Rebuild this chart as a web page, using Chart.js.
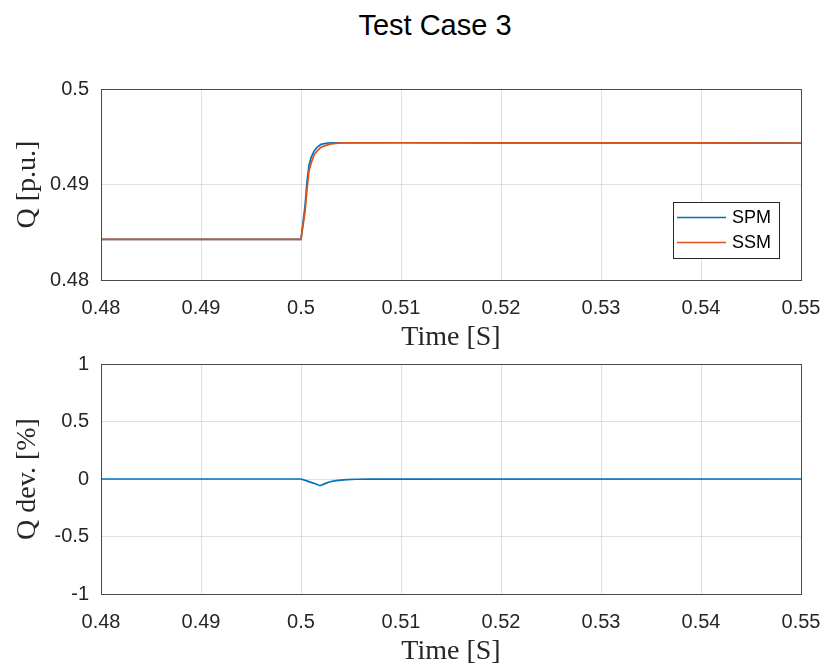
<!DOCTYPE html>
<html>
<head>
<meta charset="utf-8">
<script src="https://cdn.jsdelivr.net/npm/chart.js@4/dist/chart.umd.min.js"></script>
<style>
  body { margin: 0; background: #fff; }
  #wrap { position: relative; width: 827px; height: 668px; }
  #title { position: absolute; left: 335px; top: 11px; width: 200px; text-align: center;
           font: 29px "Liberation Sans", Arial, sans-serif; line-height: 29px; color: #000; }
  canvas { position: absolute; left: 0; }
</style>
</head>
<body>
<div id="wrap">
  <div id="title">Test Case 3</div>
  <canvas id="topChart" width="827" height="354" style="top:0"></canvas>
  <canvas id="devChart" width="827" height="314" style="top:354px"></canvas>
</div>
<script>
// tempo (s) e potência reativa das duas simulações
const tempo = [0.48, 0.5, 0.5002, 0.5004, 0.5006, 0.5008, 0.501, 0.5013, 0.5016, 0.502, 0.5025, 0.503, 0.5037, 0.5045, 0.51, 0.52, 0.53, 0.54, 0.55];
const qSPM = [0.48425, 0.48425, 0.4860, 0.4877, 0.4903, 0.4920, 0.4928, 0.4935, 0.4939, 0.4942, 0.49432, 0.49436, 0.49437, 0.49437, 0.49437, 0.49436, 0.49435, 0.49435, 0.49434];
const qSSM = [0.48425, 0.48425, 0.4857, 0.4871, 0.4895, 0.4914, 0.4922, 0.4931, 0.4935, 0.4939, 0.4941, 0.49425, 0.49433, 0.49436, 0.49437, 0.49436, 0.49435, 0.49435, 0.49434];

// desvio percentual entre os modelos
const tempoDev = [0.48, 0.5, 0.5005, 0.501, 0.5015, 0.5019, 0.5024, 0.5029, 0.5035, 0.504, 0.5046, 0.5055, 0.507, 0.55];
const qDev = [0, 0, -0.014, -0.029, -0.044, -0.058, -0.04, -0.024, -0.014, -0.009, -0.005, -0.002, -0.001, 0];

const ticksX = { min: 0.48, max: 0.55, step: 0.01 };
const ticksTop = { min: 0.48, max: 0.5, step: 0.01 };
const ticksDev = { min: -1, max: 1, step: 0.5 };

const azul = '#0072BD';
const laranja = '#D95319';
const cinza = '#262626';
const grade = 'rgba(38,38,38,0.15)';

const pares = (xs, ys) => xs.map((x, i) => ({ x: x, y: ys[i] }));
// rótulos no estilo MATLAB (0.5 em vez de 0.50, 1 em vez de 1.0)
const rotulo = v => String(Math.round(v * 1e6) / 1e6);

// moldura do eixo (estilo MATLAB)
const moldura = {
  id: 'moldura',
  afterDatasetsDraw(chart) {
    const a = chart.chartArea, c = chart.ctx;
    c.save();
    c.strokeStyle = '#4a4a4a';
    c.lineWidth = 1;
    c.strokeRect(Math.round(a.left) + 0.5, Math.round(a.top) + 0.5, Math.round(a.right - a.left), Math.round(a.bottom - a.top));
    c.restore();
  }
};

// legenda desenhada dentro da área do gráfico
const legendaInterna = {
  id: 'legendaInterna',
  afterDraw(chart, args, opts) {
    if (!opts.show) return;
    const a = chart.chartArea, c = chart.ctx;
    const w = 106, h = 56;
    const x0 = a.right - 22 - w, y0 = a.top + 113;
    c.save();
    c.fillStyle = '#fff';
    c.fillRect(x0, y0, w, h);
    c.strokeStyle = cinza;
    c.lineWidth = 1;
    c.strokeRect(Math.round(x0) + 0.5, Math.round(y0) + 0.5, w, h);
    c.font = '18px "Liberation Sans", Arial, sans-serif';
    c.textBaseline = 'middle';
    chart.data.datasets.forEach((ds, i) => {
      const y = y0 + 15.5 + i * 25;
      c.strokeStyle = ds.borderColor;
      c.lineWidth = 1.7;
      c.beginPath();
      c.moveTo(x0 + 4, y);
      c.lineTo(x0 + 53, y);
      c.stroke();
      c.fillStyle = '#000';
      c.fillText(ds.label, x0 + 59, y + 1);
    });
    c.restore();
  }
};

function eixoX(alturaEixo) {
  return {
    type: 'linear', min: ticksX.min, max: ticksX.max,
    ticks: { stepSize: ticksX.step, padding: 16, color: cinza, callback: rotulo, font: { family: 'Liberation Sans', size: 20 } },
    grid: { color: grade, drawTicks: false },
    border: { display: false },
    title: { display: true, text: 'Time [S]', color: cinza, padding: 0, font: { family: 'Liberation Serif', size: 28 } },
    afterFit(s) { s.height = alturaEixo; s.paddingLeft = 0; s.paddingRight = 0; }
  };
}

function eixoY(t, texto) {
  return {
    type: 'linear', min: t.min, max: t.max,
    ticks: { stepSize: t.step, padding: 12, color: cinza, callback: rotulo, font: { family: 'Liberation Sans', size: 20 } },
    grid: { color: grade, drawTicks: false },
    border: { display: false },
    title: { display: true, text: texto, color: cinza, padding: { top: 11, bottom: 0 }, font: { family: 'Liberation Serif', size: 28 } },
    afterFit(s) { s.width = 101; s.paddingTop = 0; s.paddingBottom = 0; }
  };
}

new Chart(document.getElementById('topChart').getContext('2d'), {
  type: 'line',
  data: {
    datasets: [
      { label: 'SPM', data: pares(tempo, qSPM), borderColor: azul, borderWidth: 1.7, pointRadius: 0, order: 1 },
      { label: 'SSM', data: pares(tempo, qSSM), borderColor: laranja, borderWidth: 1.7, pointRadius: 0, order: 0 }
    ]
  },
  options: {
    responsive: false, animation: false,
    layout: { padding: { top: 89, right: 26, left: 0, bottom: 0 } },
    scales: { x: eixoX(74), y: eixoY(ticksTop, 'Q [p.u.]') },
    plugins: { legend: { display: false }, tooltip: { enabled: false }, legendaInterna: { show: true } }
  },
  plugins: [moldura, legendaInterna]
});

new Chart(document.getElementById('devChart').getContext('2d'), {
  type: 'line',
  data: {
    datasets: [
      { label: 'Q dev.', data: pares(tempoDev, qDev), borderColor: azul, borderWidth: 1.7, pointRadius: 0 }
    ]
  },
  options: {
    responsive: false, animation: false,
    layout: { padding: { top: 10, right: 26, left: 0, bottom: 0 } },
    scales: { x: eixoX(74), y: eixoY(ticksDev, 'Q dev. [%]') },
    plugins: { legend: { display: false }, tooltip: { enabled: false } }
  },
  plugins: [moldura]
});
</script>
</body>
</html>
